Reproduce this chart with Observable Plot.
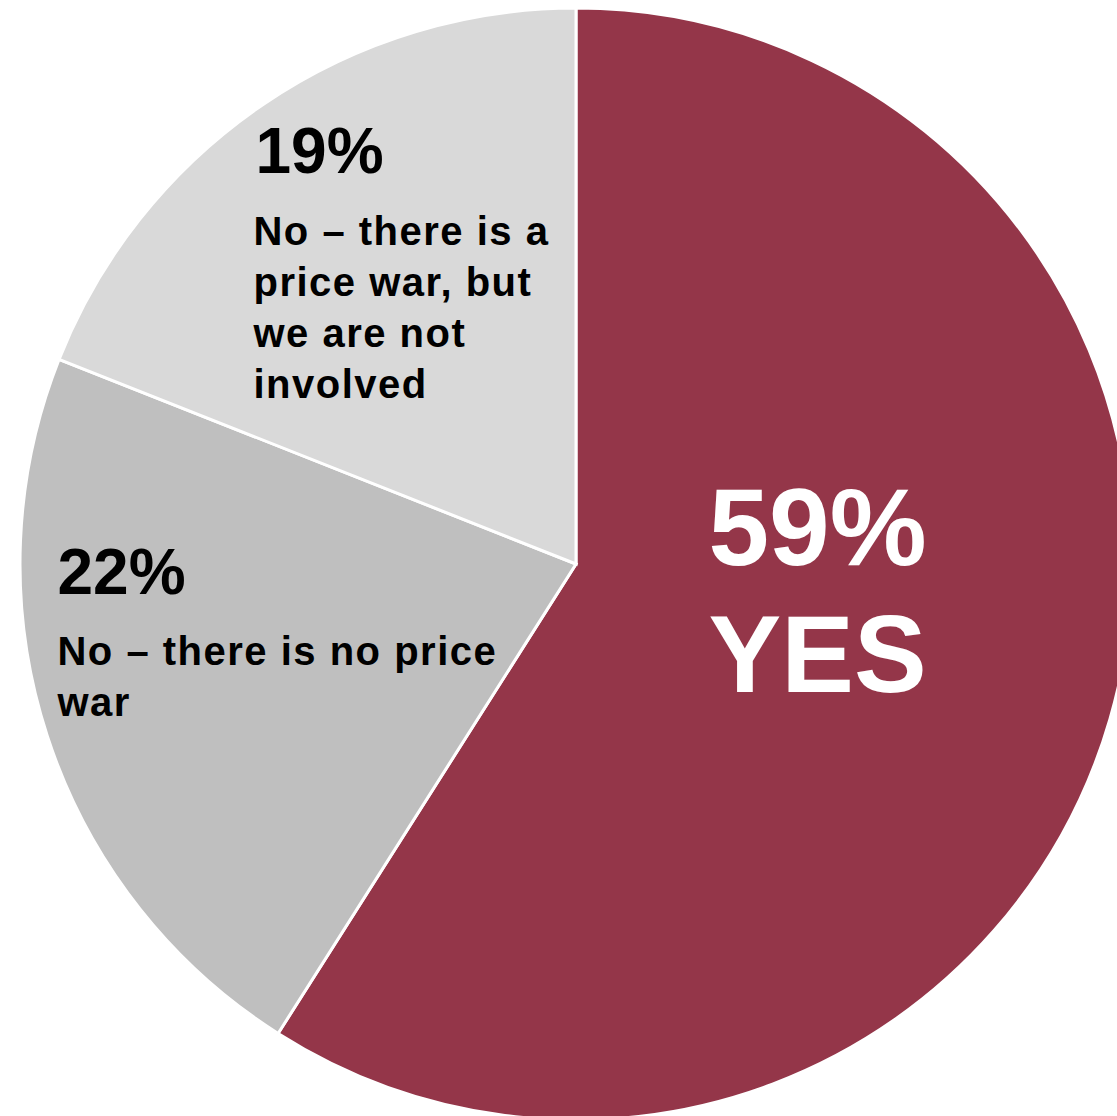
<!DOCTYPE html>
<html>
<head>
<meta charset="utf-8">
<script src="https://cdn.jsdelivr.net/npm/d3@7"></script>
<script src="https://cdn.jsdelivr.net/npm/@observablehq/plot@0.6"></script>
<style>
  html, body { margin: 0; padding: 0; background: #ffffff; }
  #chart svg { display: block; }
</style>
</head>
<body>
<div id="chart"></div>
<script>
// ---- Data ----
const categories = ["YES", "No – there is no price war", "No – there is a price war, but we are not involved"];
const values = [59, 22, 19];
const valueLabels = ["59%", "22%", "19%"];
const descLabels = ["YES", "No – there is no price\nwar", "No – there is a\nprice war, but\nwe are not\ninvolved"];
const colors = ["#943649", "#bfbfbf", "#d9d9d9"];

// ---- Layout (label anchors in pie-radius units, y up) ----
const labelLayout = [
  {valX: 0.4335, valY: 0.1619},
  {valX: -0.9335, valY: 0.0295, descX: -0.9335, descY: -0.1156},
  {valX: -0.5773, valY: 0.785, descX: -0.581, descY: 0.6398}
];

const W = 1117, H = 1116, CX = 576, CY = 564, R = 556;

const data = categories.map((c, i) => ({category: c, value: values[i], color: colors[i]}));
const arcs = d3.pie().sort(null).value(d => d.value)(data);

const bigLabel = [{x: labelLayout[0].valX, y: labelLayout[0].valY, text: valueLabels[0] + "\n" + descLabels[0]}];
const pctLabels = [1, 2].map(i => ({x: labelLayout[i].valX, y: labelLayout[i].valY, text: valueLabels[i]}));
const descTexts = [1, 2].map(i => ({x: labelLayout[i].descX, y: labelLayout[i].descY, text: descLabels[i]}));

const font = "'Liberation Sans', Arial, Helvetica, sans-serif";

const chart = Plot.plot({
  width: W,
  height: H,
  margin: 0,
  style: {background: "#ffffff", fontFamily: font},
  x: {domain: [-1, 1], range: [CX - R, CX + R], axis: null},
  y: {domain: [-1, 1], range: [CY + R, CY - R], axis: null},
  marks: [
    (index, scales) => {
      const ox = scales.x(0), oy = scales.y(0);
      const r = scales.x(1) - scales.x(0);
      const arc = d3.arc().innerRadius(0).outerRadius(r);
      const g = d3.create("svg:g").attr("transform", `translate(${ox},${oy})`);
      g.selectAll("path").data(arcs).join("path")
        .attr("d", arc)
        .attr("fill", d => d.data.color)
        .attr("stroke", "#ffffff")
        .attr("stroke-width", 3)
        .attr("stroke-linejoin", "miter");
      return g.node();
    },
    Plot.text(bigLabel, {x: "x", y: "y", text: "text", fill: "#ffffff", fontSize: 109, fontWeight: "bold",
      textAnchor: "middle", lineAnchor: "top", lineHeight: 1.165, fontFamily: font}),
    Plot.text(pctLabels, {x: "x", y: "y", text: "text", fill: "#000000", fontSize: 64, fontWeight: "bold",
      textAnchor: "start", lineAnchor: "top", fontFamily: font}),
    Plot.text(descTexts, {x: "x", y: "y", text: "text", fill: "#000000", fontSize: 40, fontWeight: "bold",
      textAnchor: "start", lineAnchor: "top", lineHeight: 1.275, fontFamily: font})
  ]
});

const textGroups = chart.querySelectorAll('g[aria-label="text"]');
if (textGroups.length >= 3) textGroups[2].setAttribute("letter-spacing", "1.5");
document.getElementById("chart").appendChild(chart);
</script>
</body>
</html>
